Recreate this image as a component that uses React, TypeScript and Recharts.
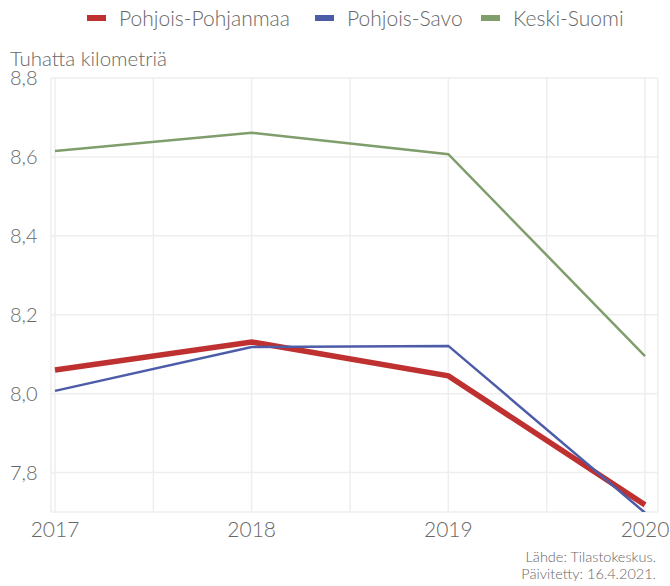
import { LineChart, Line, XAxis, YAxis, CartesianGrid } from 'recharts';

const years = [2017, 2018, 2019, 2020];
const pohjoisPohjanmaa = [8.06, 8.131, 8.045, 7.718];
const pohjoisSavo = [8.007, 8.118, 8.121, 7.698];
const keskiSuomi = [8.615, 8.661, 8.607, 8.095];

const xTicks = [2017, 2017.5, 2018, 2018.5, 2019, 2019.5, 2020];
const yTicks = [7.8, 8.0, 8.2, 8.4, 8.6, 8.8];

const series = [
  { key: 'Pohjois-Pohjanmaa', color: '#bf3030', width: 5.5, legendX: 87 },
  { key: 'Pohjois-Savo', color: '#4c5ca8', width: 2.5, legendX: 315 },
  { key: 'Keski-Suomi', color: '#7f9e6c', width: 2.5, legendX: 481 },
];

const data = years.map((year, i) => ({
  year,
  'Pohjois-Pohjanmaa': pohjoisPohjanmaa[i],
  'Pohjois-Savo': pohjoisSavo[i],
  'Keski-Suomi': keskiSuomi[i],
}));

const FONT = 'Lato, "DejaVu Sans", sans-serif';
const TEXT = '#676767';

function YTick({ y, payload }: any) {
  return (
    <text x={10} y={y} dy={7} fill={TEXT} fontSize={20} fontWeight={300} fontFamily={FONT} textAnchor="start">
      {payload.value.toFixed(1).replace('.', ',')}
    </text>
  );
}

export default function App() {
  return (
    <div style={{ position: 'relative', width: 670, height: 586, background: '#fff' }}>
      <style>{'body{margin:0}'}</style>
      <LineChart width={670} height={586} data={data} margin={{ top: 78, right: 12, bottom: 44, left: 0 }}>
        <CartesianGrid stroke="#eeeeee" strokeWidth={1.5} />
        <XAxis
          dataKey="year"
          type="number"
          domain={[2017, 2020]}
          ticks={xTicks}
          padding={{ left: 4, right: 13 }}
          axisLine={false}
          tickLine={false}
          tickFormatter={(v: number) => (Number.isInteger(v) ? String(v) : '')}
          tick={{ fill: TEXT, fontSize: 21, fontWeight: 300, fontFamily: FONT }}
          tickMargin={4}
        />
        <YAxis
          width={51}
          domain={[7.7, 8.8]}
          ticks={yTicks}
          allowDataOverflow
          axisLine={false}
          tickLine={false}
          tick={<YTick />}
        />
        {series.map((s) => (
          <Line
            key={s.key}
            dataKey={s.key}
            stroke={s.color}
            strokeWidth={s.width}
            dot={false}
            isAnimationActive={false}
          />
        ))}
      </LineChart>
      <svg width={670} height={586} style={{ position: 'absolute', left: 0, top: 0, pointerEvents: 'none' }}>
        {series.map((s) => (
          <g key={s.key}>
            <rect x={s.legendX} y={15} width={19} height={6} fill={s.color} />
            <text x={s.legendX + 32} y={26} fill={TEXT} fontSize={21} fontWeight={300} fontFamily={FONT}>
              {s.key}
            </text>
          </g>
        ))}
        <text x={10} y={66} fill={TEXT} fontSize={20.5} fontWeight={300} fontFamily={FONT}>
          Tuhatta kilometriä
        </text>
        <text x={656} y={562} fill={TEXT} fontSize={14.5} fontWeight={300} fontFamily={FONT} textAnchor="end">
          Lähde: Tilastokeskus.
        </text>
        <text x={656} y={579} fill={TEXT} fontSize={14.5} fontWeight={300} fontFamily={FONT} textAnchor="end">
          Päivitetty: 16.4.2021.
        </text>
      </svg>
    </div>
  );
}
